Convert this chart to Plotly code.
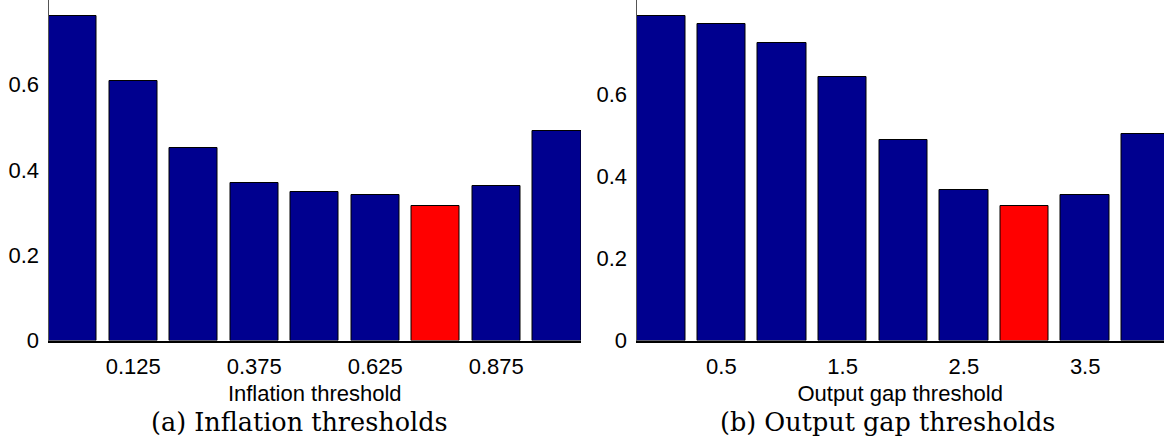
import plotly.graph_objects as go

# Data
inflation_thresholds = [0.0, 0.125, 0.25, 0.375, 0.5, 0.625, 0.75, 0.875, 1.0]
inflation_loss = [0.761, 0.609, 0.452, 0.370, 0.348, 0.341, 0.315, 0.363, 0.490]
inflation_ticks = [0.125, 0.375, 0.625, 0.875]

output_gap_thresholds = [0.0, 0.5, 1.0, 1.5, 2.0, 2.5, 3.0, 3.5, 4.0]
output_gap_loss = [0.790, 0.770, 0.724, 0.641, 0.488, 0.367, 0.327, 0.355, 0.502]
output_gap_ticks = [0.5, 1.5, 2.5, 3.5]

y_ticks = [0, 0.2, 0.4, 0.6]

NAVY = "#00008F"
RED = "#FF0000"


def colors(vals):
    m = min(vals)
    return [RED if v == m else NAVY for v in vals]


W, H = 1164, 441
fig = go.Figure()
fig.add_trace(go.Bar(x=inflation_thresholds, y=inflation_loss, width=0.1,
                     marker=dict(color=colors(inflation_loss), line=dict(color="black", width=1)),
                     xaxis="x", yaxis="y", showlegend=False))
fig.add_trace(go.Bar(x=output_gap_thresholds, y=output_gap_loss, width=0.4,
                     marker=dict(color=colors(output_gap_loss), line=dict(color="black", width=1)),
                     xaxis="x2", yaxis="y2", showlegend=False))

ybot = (H - 340.5) / H
sans = "Liberation Sans, Arial, sans-serif"
tickfont = dict(family=sans, size=22, color="black")

common_x = dict(showgrid=False, zeroline=False, showline=True, linecolor="black", linewidth=1.5,
                ticks="", tickfont=tickfont, ticklabelstandoff=5,
                title_font=dict(family=sans, size=22, color="black"),
                title_standoff=8)
common_y = dict(showgrid=False, zeroline=False, showline=True, linecolor="#555555", linewidth=1,
                ticks="", tickfont=tickfont, tickvals=y_ticks, ticktext=["0", "0.2", "0.4", "0.6"],
                ticklabelstandoff=4, domain=[ybot, 1.0])

fig.update_layout(
    width=W, height=H, margin=dict(l=0, r=0, t=0, b=0, autoexpand=False),
    paper_bgcolor="white", plot_bgcolor="white",
    xaxis=dict(domain=[48.5 / W, 581 / W], range=[-0.05, 1.05], tickvals=inflation_ticks,
               ticktext=["0.125", "0.375", "0.625", "0.875"], anchor="y",
               title_text="Inflation threshold", **common_x),
    yaxis=dict(range=[0, 0.798], anchor="x", **common_y),
    xaxis2=dict(domain=[636.5 / W, 1.0], range=[-0.2, 4.15], tickvals=output_gap_ticks,
                ticktext=["0.5", "1.5", "2.5", "3.5"], anchor="y2",
                title_text="Output gap threshold", **common_x),
    yaxis2=dict(range=[0, 0.829], anchor="x2", **common_y),
    bargap=0,
)

capfont = dict(family="DejaVu Serif, Liberation Serif, serif", size=25.5, color="black")
fig.add_annotation(text="(a) Inflation thresholds", x=299 / W, y=(H - 422) / H,
                   xref="paper", yref="paper", showarrow=False, font=capfont,
                   xanchor="center", yanchor="middle")
fig.add_annotation(text="(b) Output gap thresholds", x=(582 + 305) / W, y=(H - 422) / H,
                   xref="paper", yref="paper", showarrow=False, font=capfont,
                   xanchor="center", yanchor="middle")

fig.write_html("out.html", config={"displayModeBar": False},
               post_script="document.body.style.margin='0';document.body.style.overflow='hidden';")
